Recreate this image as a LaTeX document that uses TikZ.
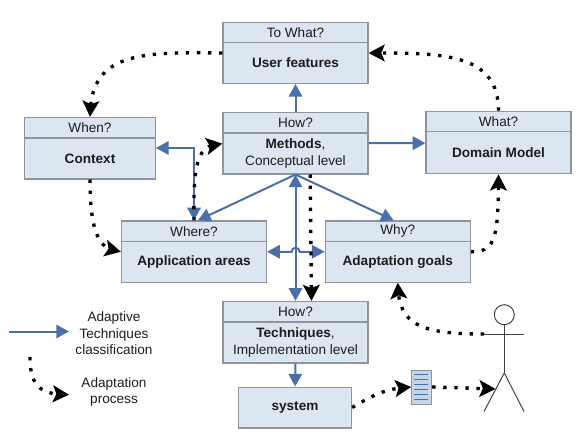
\documentclass[tikz,border=0pt]{standalone}
\usepackage{fontspec}
\setmainfont{Liberation Sans}
\usetikzlibrary{arrows.meta,bending}
\definecolor{boxfill}{HTML}{DCE6F0}
\definecolor{boxline}{HTML}{8E949B}
\definecolor{linkblue}{HTML}{4A6FA9}
\definecolor{inkgrey}{HTML}{1C1C1C}
\begin{document}
\begin{tikzpicture}
    [x=0.75pt,y=-0.75pt,>={Triangle[length=9.5pt,width=10pt]},
    headbox/.style={rectangle,draw=boxline,line width=0.9pt,fill=boxfill,inner sep=0pt,text=inkgrey,
        font=\fontsize{10.2}{12.4}\selectfont,minimum height=15.4pt,minimum width=#1},
    bodybox/.style={headbox=#1,minimum height=30.6pt,align=center,execute at end node={\\[-8.2pt]}},
    legendtext/.style={inner sep=0pt,align=center,text=inkgrey,font=\fontsize{10.2}{12.4}\selectfont},
    classlink/.style={draw=linkblue,line width=1.5pt},
    processlink/.style={draw=black,line width=2.5pt,dash pattern=on 2.5pt off 5.8pt,
        -{Stealth[length=12pt,width=12.5pt,inset=2.5pt]}},
    figureline/.style={draw=black!75,line width=0.75pt}]
    \useasboundingbox (0,0) rectangle (579,439);
    \node[headbox=108.75pt] (UserHead) at (295.5,32.75) {To What?};
    \node[bodybox=108.75pt] (User) at (295.5,63) {\textbf{User features}};
    \node[headbox=108.75pt] (MethodsHead) at (295.5,122.5) {How?};
    \node[bodybox=108.75pt] (Methods) at (295.5,153.5) {\textbf{Methods},\\Conceptual level};
    \node[headbox=97.9pt] (ContextHead) at (90,127.75) {When?};
    \node[bodybox=97.9pt] (Context) at (90,158.5) {\textbf{Context}};
    \node[headbox=108.75pt] (DomainHead) at (498.5,121.5) {What?};
    \node[bodybox=108.75pt,minimum height=31.6pt] (Domain) at (498.5,152.75) {\textbf{Domain Model}};
    \node[headbox=108.75pt] (AreasHead) at (194,231.25) {Where?};
    \node[bodybox=108.75pt] (Areas) at (194,261.75) {\textbf{Application areas}};
    \node[headbox=108.75pt] (GoalsHead) at (397.75,231.25) {Why?};
    \node[bodybox=108.75pt] (Goals) at (397.75,261.75) {\textbf{Adaptation goals}};
    \node[headbox=108.75pt] (TechHead) at (295.5,311.75) {How?};
    \node[bodybox=108.75pt] (Tech) at (295.5,342.5) {\textbf{Techniques},\\Implementation level};
    \node[headbox=84.75pt,minimum height=30.6pt] (System) at (295,407.5) {\textbf{system}};
    % document icon
    \node[rectangle,draw=boxline,line width=0.75pt,fill=boxfill!85!linkblue,minimum width=15pt,minimum height=25.5pt,inner sep=0pt] (Doc) at (421.7,387) {};
    \foreach \y in {374,379,384,389,394,399}
        \draw [linkblue,line width=0.75pt] (414.3,\y) -- (428.3,\y);
    % stick figure
    \node[circle,draw=black!75,line width=0.75pt,minimum size=15pt,inner sep=0pt] (Head) at (504.3,314.7) {};
    \coordinate (ArmL) at (484,334);
    \coordinate (ArmR) at (524,334);
    \coordinate (Hip) at (504.3,373);
    \coordinate (LegL) at (484,411.5);
    \coordinate (LegR) at (524,411.5);
    \coordinate (LegMid) at (495.5,389);
    \draw [figureline] (Head) -- (Hip);
    \draw [figureline] (ArmL) -- (ArmR);
    \draw [figureline] (LegL) -- (Hip) -- (LegR);
    % legend
    \node[legendtext] (LegendClass) at (114,333.5) {Adaptive\\Techniques\\classification};
    \node[legendtext] (LegendProcess) at (114,392) {Adaptation\\process};
    \coordinate (ClassStart) at (9,331.5);
    \coordinate (ClassEnd) at (69,331.5);
    \coordinate (ProcessStart) at (30,357);
    \coordinate (ProcessEnd) at (69,394.7);
    % classification links
    \draw [classlink,->] (MethodsHead) -- (User);
    \draw [classlink,->] ([yshift=7.7pt]Methods.east) -- ([yshift=7.2pt]Domain.west);
    \draw [classlink,<->] ([yshift=7.9pt]Context.east) -| (AreasHead.north);
    \draw [classlink,->] (Methods.south) -- ([xshift=3pt]AreasHead.north);
    \draw [classlink,->] (Methods.south) -- ([xshift=-3pt]GoalsHead.north);
    \draw [classlink,<->] (Methods.south) -- (TechHead.north);
    \draw [classlink,<->] ([yshift=7.5pt]Areas.east) -- +(24.5,0) arc[start angle=180,end angle=360,radius=4] -- ([yshift=7.5pt]Goals.west);
    \draw [classlink,->] (Tech) -- (System);
    \draw [classlink,->] (ClassStart) -- (ClassEnd);
    % adaptation process
    \draw [processlink] (User.west |- 222,53) .. controls (140,52) and (90,52) .. (ContextHead.north);
    \draw [processlink] (DomainHead.north) .. controls (498.5,52) and (440,53) .. (User.east |- 368,53);
    \draw [processlink] (Context.south) .. controls (90,235) and (100,251) .. ([yshift=7.5pt]Areas.west);
    \draw [processlink] (AreasHead.north) .. controls (193,160) and (198,144) .. ([yshift=7.4pt]Methods.west);
    \draw [processlink] ([xshift=11pt]Methods.south) -- ([xshift=12pt]TechHead.north);
    \draw [processlink] ([yshift=7.5pt]Goals.east) .. controls (495,252) and (498.5,240) .. (Domain.south);
    \draw [processlink] (ArmL) .. controls (420,334) and (398,325) .. (Goals.south);
    \draw [processlink] (System.east) .. controls (372,396) and (385,388) .. (Doc.west);
    \draw [processlink] (Doc.east) -- (LegMid);
    \draw [processlink] (ProcessStart) .. controls (30,388) and (42,394.7) .. (ProcessEnd);
\end{tikzpicture}
\end{document}
